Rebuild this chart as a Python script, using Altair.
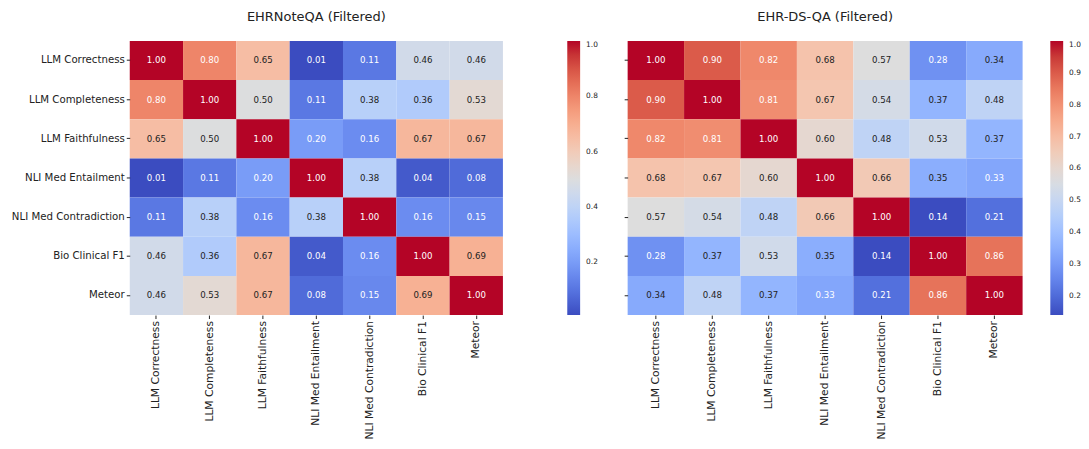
import altair as alt
import pandas as pd

metrics = ["LLM Correctness", "LLM Completeness", "LLM Faithfulness",
           "NLI Med Entailment", "NLI Med Contradiction", "Bio Clinical F1", "Meteor"]

ehrnoteqa = [
    [1.00, 0.80, 0.65, 0.01, 0.11, 0.46, 0.46],
    [0.80, 1.00, 0.50, 0.11, 0.38, 0.36, 0.53],
    [0.65, 0.50, 1.00, 0.20, 0.16, 0.67, 0.67],
    [0.01, 0.11, 0.20, 1.00, 0.38, 0.04, 0.08],
    [0.11, 0.38, 0.16, 0.38, 1.00, 0.16, 0.15],
    [0.46, 0.36, 0.67, 0.04, 0.16, 1.00, 0.69],
    [0.46, 0.53, 0.67, 0.08, 0.15, 0.69, 1.00],
]
ehrdsqa = [
    [1.00, 0.90, 0.82, 0.68, 0.57, 0.28, 0.34],
    [0.90, 1.00, 0.81, 0.67, 0.54, 0.37, 0.48],
    [0.82, 0.81, 1.00, 0.60, 0.48, 0.53, 0.37],
    [0.68, 0.67, 0.60, 1.00, 0.66, 0.35, 0.33],
    [0.57, 0.54, 0.48, 0.66, 1.00, 0.14, 0.21],
    [0.28, 0.37, 0.53, 0.35, 0.14, 1.00, 0.86],
    [0.34, 0.48, 0.37, 0.33, 0.21, 0.86, 1.00],
]

left_ticks = [0.2, 0.4, 0.6, 0.8, 1.0]
right_ticks = [0.2, 0.3, 0.4, 0.5, 0.6, 0.7, 0.8, 0.9, 1.0]

# matplotlib "coolwarm" sampled at 17 evenly spaced stops
coolwarm = ["#3b4cc0", "#4d68d7", "#6282ea", "#779af7", "#8db0fe", "#a3c2ff",
            "#b8d0f9", "#ccd9ee", "#dddddd", "#ecd3c5", "#f5c4ad", "#f7b194",
            "#f49a7b", "#ec7f63", "#de604d", "#cb3e38", "#b40426"]

FONT = "DejaVu Sans"


def to_long(matrix):
    rows = []
    for i, r in enumerate(metrics):
        for j, c in enumerate(metrics):
            rows.append({"row": r, "col": c, "value": matrix[i][j]})
    return pd.DataFrame(rows)


def heatmap(matrix, title, ticks, width, show_ylabels, legend_offset):
    df = to_long(matrix)
    vmin = float(df["value"].min())
    vmax = float(df["value"].max())
    n = len(coolwarm) - 1
    domain = [vmin + (vmax - vmin) * k / n for k in range(n + 1)]
    base = alt.Chart(df).encode(
        x=alt.X("col:N", sort=metrics, title=None,
                axis=alt.Axis(labelAngle=-90, labelFontSize=10.8, labelFont=FONT,
                              labelColor="#222", tickSize=3.5, tickColor="#222",
                              domain=False, labelPadding=2, labelLimit=300)),
        y=alt.Y("row:N", sort=metrics, title=None,
                axis=alt.Axis(labels=show_ylabels, labelFontSize=10.3, labelFont=FONT,
                              labelColor="#222", tickSize=3.5, tickColor="#222",
                              domain=False, labelPadding=2, labelLimit=300)),
    )
    rect = base.mark_rect().encode(
        color=alt.Color("value:Q",
                        scale=alt.Scale(domain=domain, range=coolwarm, zero=False,
                                        nice=False, clamp=True, interpolate="rgb"),
                        legend=alt.Legend(title=None, values=ticks, format=".1f",
                                          gradientLength=277, gradientThickness=13,
                                          gradientStrokeWidth=0, labelFontSize=7.5,
                                          labelFont=FONT, labelColor="#222",
                                          labelOffset=6, labelOverlap=False,
                                          offset=legend_offset, orient="right",
                                          direction="vertical")),
    )
    norm = f"((datum.value - {vmin}) / ({vmax} - {vmin}))"
    text = base.mark_text(fontSize=8.7, font=FONT).encode(
        text=alt.Text("value:Q", format=".2f"),
        color=alt.condition(f"{norm} < 0.225 || {norm} > 0.7",
                            alt.value("#ffffff"), alt.value("#222222")),
    )
    return alt.layer(rect, text).properties(
        width=width, height=277,
        title=alt.TitleParams(title, fontSize=13.1, font=FONT, fontWeight="normal",
                              anchor="middle", color="#222", baseline="alphabetic",
                              offset=7),
    )


left = heatmap(ehrnoteqa, "EHRNoteQA (Filtered)", left_ticks, 377, True, 65)
right = heatmap(ehrdsqa, "EHR-DS-QA (Filtered)", right_ticks, 399, False, 28)

chart = alt.hconcat(left, right, spacing=26).resolve_scale(color="independent").configure_view(
    stroke=None
).properties(padding={"top": 0, "left": 3, "right": 0, "bottom": 0})

chart.save("out.html", embed_options={"renderer": "svg", "actions": False})
